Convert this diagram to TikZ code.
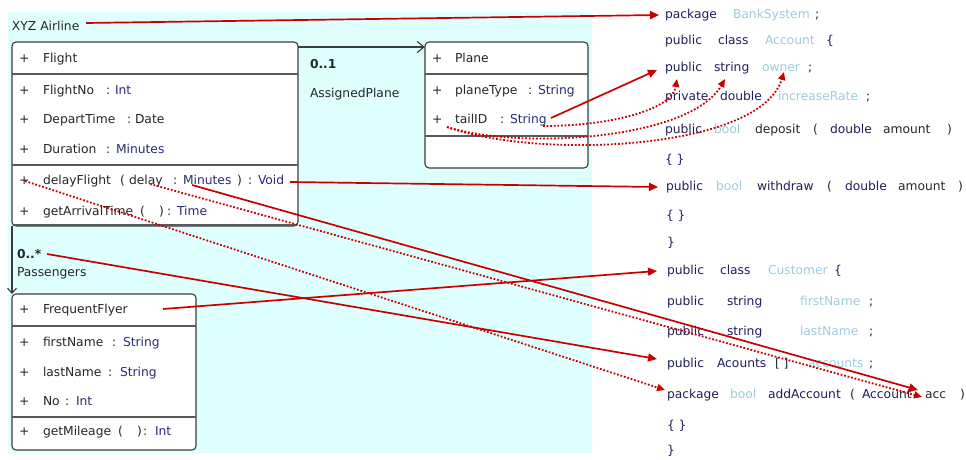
\documentclass[tikz,border=0pt]{standalone}
\usepackage{fontspec}
\setmainfont{DejaVu Sans}
\usetikzlibrary{arrows.meta}
\definecolor{bgc}{HTML}{DFFFFF}
\definecolor{boxline}{HTML}{3C3C3C}
\definecolor{txt}{HTML}{262626}
\definecolor{typ}{HTML}{2A2A78}
\definecolor{kwc}{HTML}{1E1E5A}
\definecolor{idl}{HTML}{9CCBDC}
\definecolor{arr}{HTML}{C80000}
\tikzset{
 tk/.style={anchor=base west, inner sep=0pt, outer sep=0pt, font=\fontsize{12.3}{14}\selectfont, text=txt},
 ty/.style={tk, text=typ},
 kwt/.style={tk, text=kwc},
 idt/.style={tk, text=idl},
 umlbox/.style={draw=boxline, line width=1.1pt, fill=white, rounded corners=4pt},
 sepline/.style={draw=boxline!85, line width=1.6pt},
 assoc/.style={draw=boxline, line width=1.1pt},
 redline/.style={draw=arr, line width=1.7pt, -{Triangle[length=9pt,width=8pt]}},
 reddot/.style={draw=arr, line width=1.8pt, dash pattern=on 1.8pt off 1.8pt, -{Triangle[length=8pt,width=7pt]}},
}
\begin{document}
\begin{tikzpicture}[x=1pt,y=-1pt]
\useasboundingbox (0,0) rectangle (966,460);
\fill[bgc] (8,12) rectangle (592,453);
% title
\node[tk] (xyz) at (12,30.5) {XYZ Airline};
% Flight box
\draw[umlbox] (12,42) rectangle (298,226);
\draw[sepline] (12,74) -- (298,74);
\draw[sepline] (12,165) -- (298,165);
\draw[sepline] (13,225) -- (297,225);
\node[tk] (f0p) at (19,62.5) {+};  \node[tk] (f0) at (43,62.5) {Flight};
\node[tk] (f1p) at (19,94.5) {+};  \node[tk] (f1) at (43,94.5) {FlightNo};
\node[tk] (f1c) at (106,94.5) {:}; \node[ty] (f1t) at (115,94.5) {Int};
\node[tk] (f2p) at (19,123.5) {+}; \node[tk] (f2) at (43,123.5) {DepartTime};
\node[tk] (f2c) at (127,123.5) {:}; \node[tk] (f2t) at (135,123.5) {Date};
\node[tk] (f3p) at (19,153.5) {+}; \node[tk] (f3) at (43,153.5) {Duration};
\node[tk] (f3c) at (106,153.5) {:}; \node[ty] (f3t) at (116,153.5) {Minutes};
\node[tk] (f4p) at (19,184.5) {+}; \node[tk] (f4) at (43,184.5) {delayFlight};
\node[tk] (f4a) at (120,184.5) {(}; \node[tk] (f4b) at (129,184.5) {delay};
\node[tk] (f4c) at (173,184.5) {:}; \node[ty] (f4d) at (183,184.5) {Minutes};
\node[tk] (f4e) at (237,184.5) {)}; \node[tk] (f4f) at (248,184.5) {:};
\node[ty] (f4g) at (258,184.5) {Void};
\node[tk] (f5p) at (19,215.5) {+}; \node[tk] (f5) at (43,215.5) {getArrivalTime};
\node[tk] (f5a) at (140,215.5) {(}; \node[tk] (f5b) at (159,215.5) {)};
\node[tk] (f5c) at (167,215.5) {:}; \node[ty] (f5t) at (177,215.5) {Time};
% Plane box
\draw[umlbox] (425,42) rectangle (588,168);
\draw[sepline] (425,74) -- (588,74);
\draw[sepline] (425,136) -- (588,136);
\node[tk] (p0p) at (432,62.5) {+}; \node[tk] (p0) at (455,62.5) {Plane};
\node[tk] (p1p) at (432,94.5) {+}; \node[tk] (p1) at (455,94.5) {planeType};
\node[tk] (p1c) at (528,94.5) {:}; \node[ty] (p1t) at (538,94.5) {String};
\node[tk] (p2p) at (432,123.5) {+}; \node[tk] (p2) at (455,123.5) {tailID};
\node[tk] (p2c) at (500,123.5) {:}; \node[ty] (p2t) at (510,123.5) {String};
% FrequentFlyer box
\draw[umlbox] (12,294) rectangle (196,450);
\draw[sepline] (12,326) -- (196,326);
\draw[sepline] (12,417) -- (196,417);
\node[tk] (q0p) at (19,313.5) {+}; \node[tk] (q0) at (43,313.5) {FrequentFlyer};
\node[tk] (q1p) at (19,346.5) {+}; \node[tk] (q1) at (43,346.5) {firstName};
\node[tk] (q1c) at (112,346.5) {:}; \node[ty] (q1t) at (123,346.5) {String};
\node[tk] (q2p) at (19,376.5) {+}; \node[tk] (q2) at (43,376.5) {lastName};
\node[tk] (q2c) at (108,376.5) {:}; \node[ty] (q2t) at (120,376.5) {String};
\node[tk] (q3p) at (19,405.5) {+}; \node[tk] (q3) at (43,405.5) {No};
\node[tk] (q3c) at (65,405.5) {:}; \node[ty] (q3t) at (76,405.5) {Int};
\node[tk] (q4p) at (19,435.5) {+}; \node[tk] (q4) at (43,435.5) {getMileage};
\node[tk] (q4a) at (118,435.5) {(}; \node[tk] (q4b) at (137,435.5) {)};
\node[tk] (q4c) at (143,435.5) {:}; \node[ty] (q4t) at (155,435.5) {Int};
% associations
\coordinate (fpS) at (298,47); \coordinate (fpE) at (425,47);
\draw[assoc, -{Straight Barb[length=7pt,width=11pt]}] (fpS) -- (fpE);
\node[tk, font=\fontsize{12.3}{14}\selectfont\bfseries] (m1) at (310,69) {0..1};
\node[tk] (r1) at (310,97) {AssignedPlane};
\coordinate (ffS) at (12,226); \coordinate (ffE) at (12,294);
\draw[assoc, -{Straight Barb[length=5pt,width=9pt]}] (ffS) -- (ffE);
\node[tk, font=\fontsize{12.3}{14}\selectfont\bfseries] (m2) at (17,258.5) {0..*};
\node[tk] (r2) at (17,276) {Passengers};
% code
\node[kwt] (c1a) at (665,18.5) {package}; \node[idt] (c1b) at (733,18.5) {BankSystem}; \node[kwt] (c1c) at (815,18.5) {;};
\node[kwt] (c2a) at (665,44.5) {public}; \node[kwt] (c2b) at (718,44.5) {class}; \node[idt] (c2c) at (765,44.5) {Account}; \node[kwt] (c2d) at (826,44.5) {\{};
\node[kwt] (c3a) at (665,71.5) {public}; \node[kwt] (c3b) at (714,71.5) {string}; \node[idt] (c3c) at (762,71.5) {owner}; \node[kwt] (c3d) at (808,71.5) {;};
\node[kwt] (c4a) at (665,100.5) {private}; \node[kwt] (c4b) at (720,100.5) {double}; \node[idt] (c4c) at (778,100.5) {increaseRate}; \node[kwt] (c4d) at (866,100.5) {;};
\node[kwt] (c5a) at (665,133.5) {public}; \node[idt] (c5b) at (714,133.5) {bool}; \node[tk] (c5c) at (755,133.5) {deposit}; \node[tk] (c5d) at (813,133.5) {(}; \node[kwt] (c5e) at (830,133.5) {double}; \node[tk] (c5f) at (883,133.5) {amount}; \node[tk] (c5g) at (947,133.5) {)};
\node[kwt] (c6) at (665,163.5) {\{ \}};
\node[kwt] (c7a) at (666,190.5) {public}; \node[idt] (c7b) at (716,190.5) {bool}; \node[kwt] (c7c) at (757,190.5) {withdraw}; \node[tk] (c7d) at (827,190.5) {(}; \node[kwt] (c7e) at (845,190.5) {double}; \node[tk] (c7f) at (898,190.5) {amount}; \node[tk] (c7g) at (958,190.5) {)};
\node[kwt] (c8) at (666,219.5) {\{ \}};
\node[kwt] (c9) at (667,246.5) {\}};
\node[kwt] (c10a) at (667,274.5) {public}; \node[kwt] (c10b) at (720,274.5) {class}; \node[idt] (c10c) at (768,274.5) {Customer}; \node[kwt] (c10d) at (834,274.5) {\{};
\node[kwt] (c11a) at (667,305) {public}; \node[kwt] (c11b) at (727,305) {string}; \node[idt] (c11c) at (800,305) {firstName}; \node[kwt] (c11d) at (869,305) {;};
\node[kwt] (c12a) at (667,335) {public}; \node[kwt] (c12b) at (727,335) {string}; \node[idt] (c12c) at (800,335) {lastName}; \node[kwt] (c12d) at (869,335) {;};
\node[kwt] (c13a) at (667,367.5) {public}; \node[kwt] (c13b) at (717,367.5) {Acounts}; \node[tk] (c13c) at (775,367.5) {[ ]}; \node[idt] (c13d) at (808,367.5) {accounts}; \node[kwt] (c13e) at (869,367.5) {;};
\node[kwt] (c14a) at (667,398.5) {package}; \node[idt] (c14b) at (730,398.5) {bool}; \node[kwt] (c14c) at (768,398.5) {addAccount}; \node[tk] (c14d) at (850,398.5) {(}; \node[kwt] (c14e) at (862,398.5) {Account}; \node[tk] (c14f) at (925,398.5) {acc}; \node[tk] (c14g) at (960,398.5) {)};
\node[kwt] (c15) at (667,429) {\{ \}};
\node[kwt] (c16) at (667,454) {\}};
% red connectors (free ends as named coordinates)
\coordinate (a1s) at (86,23);   \coordinate (a1e) at (659,15);
\coordinate (a2s) at (551,118); \coordinate (a2e) at (657,70);
\coordinate (a3s) at (290,182); \coordinate (a3e) at (658,187);
\coordinate (a4s) at (192,185); \coordinate (a4e) at (918,390);
\coordinate (a5s) at (163,309); \coordinate (a5e) at (657,271);
\coordinate (a6s) at (47,254);  \coordinate (a6e) at (657,359);
\draw[redline] (a1s) -- (a1e);
\draw[redline] (a2s) -- (a2e);
\draw[redline] (a3s) -- (a3e);
\draw[redline] (a4s) -- (a4e);
\draw[redline] (a5s) -- (a5e);
\draw[redline] (a6s) -- (a6e);
\coordinate (d1s) at (25,181);  \coordinate (d1e) at (665,390);
\coordinate (d2s) at (150,184); \coordinate (d2e) at (922,397);
\coordinate (d3s) at (543,126); \coordinate (d3e) at (677,79);
\coordinate (d4s) at (447,127); \coordinate (d4e) at (725,79);
\coordinate (d5e) at (784,72);
\draw[reddot] (d1s) -- (d1e);
\draw[reddot] (d2s) -- (d2e);
\draw[reddot] (d3s) .. controls (610,126) and (672,110) .. (d3e);
\draw[reddot] (d4s) .. controls (520,150) and (690,140) .. (d4e);
\draw[reddot] (d4s) .. controls (540,160) and (760,150) .. (d5e);
\end{tikzpicture}
\end{document}
